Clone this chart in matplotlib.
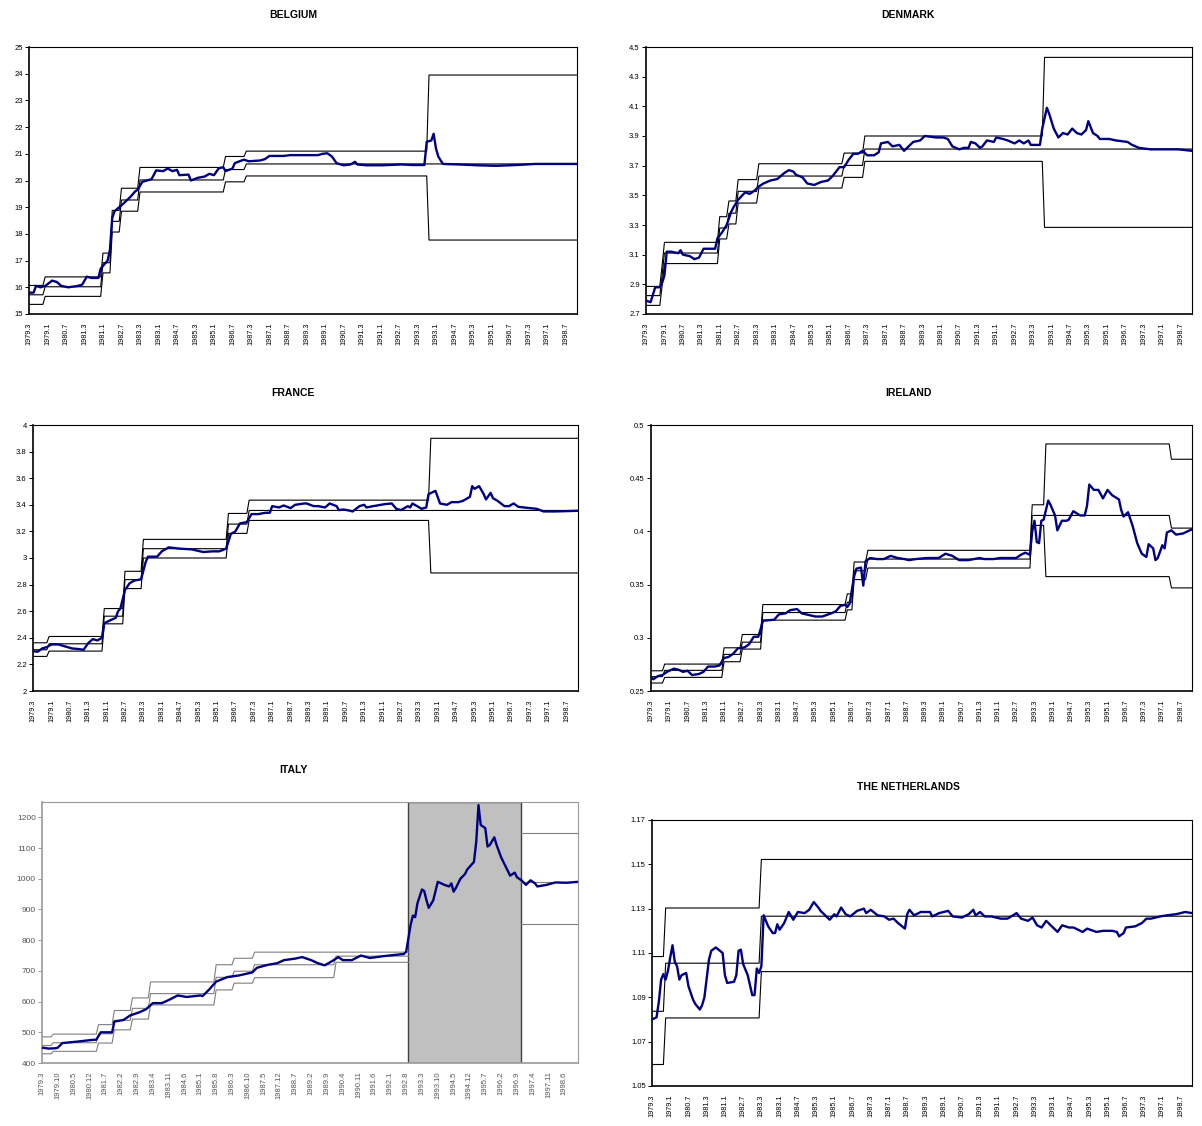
import matplotlib
matplotlib.use("Agg")
import matplotlib.pyplot as plt
import numpy as np

plt.rcParams['font.family'] = ['Liberation Sans', 'DejaVu Sans']

# month index: 0 = 1979.3 ... 237 = 1998.12
LAST = 237
XLAB_8 = ["1979.3", "1979.1", "1980.7", "1981.3", "1981.1", "1982.7", "1983.3", "1983.1",
          "1984.7", "1985.3", "1985.1", "1986.7", "1987.3", "1987.1", "1988.7", "1989.3",
          "1989.1", "1990.7", "1991.3", "1991.1", "1992.7", "1993.3", "1993.1", "1994.7",
          "1995.3", "1995.1", "1996.7", "1997.3", "1997.1", "1998.7"]
XLAB_7 = ["1979.3", "1979.10", "1980.5", "1980.12", "1981.7", "1982.2", "1982.9", "1983.4",
          "1983.11", "1984.6", "1985.1", "1985.8", "1986.3", "1986.10", "1987.5", "1987.12",
          "1988.7", "1989.2", "1989.9", "1990.4", "1990.11", "1991.6", "1992.1", "1992.8",
          "1993.3", "1993.10", "1994.5", "1994.12", "1995.7", "1996.2", "1996.9", "1997.4",
          "1997.11", "1998.6"]

# ---------------- BELGIUM ----------------
bel_m = [0, 2, 3, 5, 7, 10, 12, 14, 17, 21, 23, 25, 27, 30, 31, 34, 35, 36, 37, 39, 41, 44, 46, 47,
         49, 53, 55, 58, 60, 62, 64, 65, 69, 70, 73, 76, 78, 80, 82, 84, 85, 88, 89, 92, 93, 95,
         100, 102, 104, 110, 113, 120, 125, 127, 129, 131, 133, 136, 139, 141, 142, 146, 153,
         161, 166, 171, 172, 174, 175, 176, 177, 179, 186, 194, 202, 211, 219, 237]
bel_v = [15.80, 15.80, 16.05, 16.00, 16.05, 16.25, 16.20, 16.05, 16.00, 16.05, 16.10, 16.40,
         16.35, 16.35, 16.70, 17.00, 17.40, 18.60, 18.85, 19.00, 19.15, 19.40, 19.60, 19.65,
         19.95, 20.05, 20.38, 20.35, 20.45, 20.35, 20.40, 20.20, 20.22, 20.00, 20.10, 20.15,
         20.25, 20.20, 20.45, 20.50, 20.35, 20.45, 20.65, 20.75, 20.78, 20.72, 20.75, 20.80,
         20.92, 20.92, 20.95, 20.95, 20.95, 21.00, 21.02, 20.90, 20.65, 20.57, 20.60, 20.70,
         20.60, 20.57, 20.57, 20.60, 20.58, 20.58, 21.45, 21.50, 21.75, 21.20, 20.90, 20.62,
         20.60, 20.57, 20.55, 20.58, 20.62, 20.62]
bel_chg = [0, 6, 31, 35, 39, 47, 84, 93, 172]
bel_up = [16.07, 16.39, 17.28, 18.88, 19.71, 20.49, 20.90, 21.10, 23.95]
bel_cen = [15.72, 16.02, 16.92, 18.47, 19.27, 20.02, 20.41, 20.62, 20.62]
bel_low = [15.36, 15.66, 16.54, 18.07, 18.85, 19.57, 19.95, 20.17, 17.77]

# ---------------- DENMARK ----------------
dk_m = [0, 2, 4, 6, 7, 8, 9, 11, 14, 15, 16, 19, 21, 23, 25, 28, 30, 31, 33, 35, 37, 38, 40, 43,
        45, 47, 49, 51, 54, 57, 60, 62, 64, 65, 68, 70, 73, 76, 79, 81, 84, 86, 88, 90, 92, 94,
        96, 99, 101, 102, 105, 107, 110, 112, 114, 116, 119, 121, 126, 129, 131, 133, 136, 138,
        140, 141, 143, 145, 146, 148, 151, 152, 155, 157, 160, 162, 164, 166, 167, 171, 172,
        174, 175, 177, 179, 181, 183, 185, 187, 189, 191, 192, 194, 196, 197, 201, 204, 209,
        211, 214, 219, 231, 237]
dk_v = [2.79, 2.78, 2.88, 2.88, 2.91, 2.96, 3.12, 3.12, 3.11, 3.13, 3.10, 3.09, 3.07, 3.08, 3.14,
        3.14, 3.14, 3.21, 3.25, 3.30, 3.39, 3.42, 3.47, 3.52, 3.51, 3.53, 3.56, 3.58, 3.60, 3.61,
        3.65, 3.67, 3.66, 3.64, 3.62, 3.58, 3.57, 3.59, 3.60, 3.63, 3.69, 3.69, 3.74, 3.78, 3.78,
        3.80, 3.77, 3.77, 3.79, 3.85, 3.86, 3.83, 3.84, 3.80, 3.83, 3.86, 3.87, 3.90, 3.89, 3.89,
        3.88, 3.83, 3.81, 3.82, 3.82, 3.86, 3.85, 3.82, 3.83, 3.87, 3.86, 3.89, 3.88, 3.87, 3.85,
        3.87, 3.85, 3.87, 3.84, 3.84, 3.95, 4.09, 4.05, 3.95, 3.89, 3.92, 3.91, 3.95, 3.92, 3.91,
        3.94, 4.00, 3.92, 3.90, 3.88, 3.88, 3.87, 3.86, 3.84, 3.82, 3.81, 3.81, 3.80]
dk_chg = [0, 6, 7, 31, 35, 39, 48, 85, 94, 172]
dk_up = [2.886, 3.03, 3.183, 3.356, 3.462, 3.606, 3.713, 3.785, 3.90, 4.43]
dk_cen = [2.824, 2.963, 3.111, 3.28, 3.38, 3.527, 3.63, 3.702, 3.812, 3.812]
dk_low = [2.758, 2.891, 3.04, 3.206, 3.307, 3.448, 3.549, 3.621, 3.729, 3.284]

# ---------------- FRANCE ----------------
fr_m = [0, 2, 4, 6, 8, 11, 13, 15, 17, 20, 22, 24, 26, 28, 30, 31, 34, 36, 37, 38, 40, 42, 44,
        47, 49, 50, 54, 56, 59, 64, 69, 74, 78, 81, 84, 86, 88, 90, 93, 95, 98, 101, 103, 104,
        107, 109, 112, 114, 118, 119, 122, 124, 127, 129, 132, 133, 135, 138, 139, 142, 144,
        145, 148, 153, 156, 158, 160, 163, 164, 165, 167, 169, 171, 172, 175, 177, 180, 182,
        185, 187, 190, 191, 192, 194, 196, 197, 199, 200, 202, 205, 207, 209, 211, 216, 219,
        222, 227, 237]
fr_v = [2.30, 2.295, 2.32, 2.33, 2.35, 2.35, 2.34, 2.33, 2.32, 2.315, 2.31, 2.36, 2.39, 2.38,
        2.40, 2.51, 2.535, 2.55, 2.60, 2.62, 2.76, 2.81, 2.83, 2.84, 2.97, 3.01, 3.01, 3.05, 3.08,
        3.07, 3.065, 3.045, 3.05, 3.05, 3.07, 3.18, 3.20, 3.26, 3.27, 3.33, 3.33, 3.34, 3.34,
        3.39, 3.38, 3.395, 3.375, 3.40, 3.41, 3.41, 3.39, 3.39, 3.38, 3.41, 3.39, 3.36, 3.365,
        3.355, 3.35, 3.39, 3.40, 3.38, 3.39, 3.405, 3.41, 3.37, 3.36, 3.39, 3.38, 3.41, 3.39,
        3.37, 3.38, 3.48, 3.505, 3.41, 3.40, 3.42, 3.42, 3.43, 3.46, 3.54, 3.52, 3.54, 3.48,
        3.44, 3.49, 3.45, 3.43, 3.39, 3.39, 3.41, 3.385, 3.375, 3.37, 3.35, 3.35, 3.355]
fr_chg = [0, 6, 30, 39, 47, 84, 93, 172]
fr_up = [2.3625, 2.41, 2.62, 2.90, 3.14, 3.335, 3.435, 3.90]
fr_cen = [2.31, 2.355, 2.5625, 2.8375, 3.07, 3.255, 3.3575, 3.3575]
fr_low = [2.26, 2.30, 2.505, 2.77, 3.00, 3.185, 3.2825, 2.8875]

# ---------------- IRELAND ----------------
ie_m = [0, 1, 3, 5, 7, 10, 12, 14, 16, 18, 21, 23, 25, 28, 30, 32, 34, 36, 38, 41, 43, 45, 47,
        48, 49, 54, 56, 59, 61, 64, 66, 70, 72, 75, 79, 81, 83, 85, 86, 87, 89, 90, 92, 93, 94,
        96, 99, 102, 105, 108, 111, 113, 116, 121, 126, 129, 132, 135, 139, 144, 146, 150, 153,
        156, 160, 162, 164, 166, 167, 168, 169, 170, 171, 172, 173, 174, 175, 177, 178, 180,
        182, 183, 185, 188, 190, 191, 192, 194, 196, 198, 200, 202, 205, 206, 207, 209, 211,
        213, 215, 217, 218, 220, 221, 222, 224, 225, 226, 228, 230, 233, 237]
ie_v = [0.263, 0.261, 0.264, 0.265, 0.268, 0.271, 0.270, 0.268, 0.269, 0.265, 0.266, 0.268,
        0.273, 0.273, 0.274, 0.281, 0.282, 0.285, 0.290, 0.291, 0.294, 0.301, 0.301, 0.308,
        0.316, 0.317, 0.322, 0.323, 0.326, 0.327, 0.323, 0.321, 0.320, 0.320, 0.323, 0.325,
        0.330, 0.331, 0.329, 0.332, 0.358, 0.365, 0.366, 0.349, 0.372, 0.375, 0.374, 0.374,
        0.377, 0.375, 0.374, 0.373, 0.374, 0.375, 0.375, 0.379, 0.377, 0.373, 0.373, 0.375,
        0.374, 0.374, 0.375, 0.375, 0.375, 0.378, 0.380, 0.378, 0.400, 0.410, 0.390, 0.389,
        0.410, 0.411, 0.420, 0.429, 0.425, 0.415, 0.401, 0.410, 0.410, 0.411, 0.419, 0.415,
        0.415, 0.424, 0.444, 0.439, 0.439, 0.431, 0.439, 0.434, 0.430, 0.420, 0.414, 0.418,
        0.405, 0.389, 0.379, 0.376, 0.388, 0.384, 0.373, 0.375, 0.387, 0.384, 0.399, 0.401,
        0.397, 0.398, 0.402]
ie_chg = [0, 5, 31, 39, 48, 85, 88, 94, 166, 172, 227]
ie_up = [0.269, 0.2753, 0.2906, 0.3031, 0.33125, 0.34125, 0.37125, 0.3822, 0.425, 0.4822, 0.4678]
ie_cen = [0.2635, 0.2694, 0.2844, 0.2959, 0.32375, 0.3334, 0.363, 0.374, 0.415, 0.415, 0.4031]
ie_low = [0.2575, 0.2628, 0.2775, 0.2894, 0.3166, 0.32625, 0.3547, 0.3656, 0.4056, 0.3575, 0.3469]

# ---------------- ITALY ----------------
it_m = [0, 3, 6, 7, 9, 12, 16, 22, 24, 26, 31, 32, 36, 39, 43, 46, 49, 53, 56, 60, 64, 70, 71,
        74, 77, 82, 87, 93, 95, 100, 104, 107, 112, 115, 119, 122, 125, 129, 131, 133, 137, 141,
        145, 151, 156, 160, 161, 163, 164, 165, 166, 168, 169, 170, 171, 173, 174, 175, 178,
        180, 181, 182, 183, 185, 187, 188, 191, 192, 193, 194, 196, 197, 198, 200, 201, 203,
        205, 207, 209, 210, 212, 214, 216, 218, 219, 223, 227, 232, 237]
it_v = [450, 447, 448, 450, 465, 467, 470, 475, 476, 500, 500, 535, 540, 555, 565, 575, 595, 595,
        605, 620, 615, 620, 618, 640, 665, 680, 685, 695, 710, 720, 725, 735, 740, 745, 735, 725,
        718, 735, 745, 735, 735, 750, 742, 748, 752, 755, 762, 850, 880, 875, 920, 965, 960, 930,
        905, 930, 960, 990, 980, 975, 985, 958, 970, 1000, 1015, 1030, 1055, 1120, 1240, 1175,
        1165, 1105, 1110, 1135, 1110, 1070, 1040, 1010, 1020, 1005, 995, 980, 995, 985, 975,
        980, 988, 987, 990]
it_chg = [0, 4, 24, 31, 39, 47, 76, 84, 93, 129]
it_up = [485, 494, 525, 571, 612, 664, 720, 741, 761, 761]
it_cen = [457, 466, 495, 539, 578, 626, 679, 699, 720, 748]
it_low = [430, 438, 465, 508, 543, 589, 638, 660, 678, 728]
it_ems_end = 162          # lira leaves the ERM
it_rejoin = 212           # lira re-enters
it_new_up, it_new_cen, it_new_low = [1148], [990], [852]

# ---------------- NETHERLANDS ----------------
nl_m = [0, 2, 3, 4, 5, 6, 7, 8, 9, 10, 11, 12, 13, 15, 16, 18, 19, 21, 22, 23, 25, 26, 28, 31,
        32, 33, 36, 37, 38, 39, 40, 42, 44, 45, 46, 47, 48, 49, 51, 53, 54, 55, 56, 58, 60, 62,
        64, 67, 69, 71, 73, 74, 77, 78, 80, 81, 83, 85, 87, 90, 93, 94, 96, 99, 102, 104, 106,
        108, 111, 112, 113, 115, 118, 122, 123, 126, 128, 130, 132, 136, 139, 141, 142, 144,
        146, 149, 153, 156, 160, 162, 165, 167, 169, 171, 173, 175, 178, 180, 183, 185, 187,
        189, 191, 195, 198, 202, 204, 205, 207, 208, 212, 215, 217, 219, 223, 226, 230, 234, 237]
nl_v = [1.080, 1.081, 1.088, 1.098, 1.1005, 1.098, 1.102, 1.108, 1.1135, 1.106, 1.104, 1.098,
        1.100, 1.101, 1.095, 1.089, 1.087, 1.0845, 1.0865, 1.090, 1.107, 1.111, 1.1125, 1.110,
        1.100, 1.0965, 1.097, 1.100, 1.111, 1.1115, 1.105, 1.100, 1.091, 1.091, 1.103, 1.101,
        1.104, 1.127, 1.122, 1.119, 1.119, 1.123, 1.1205, 1.1235, 1.1285, 1.125, 1.1285, 1.128,
        1.1295, 1.133, 1.1305, 1.129, 1.126, 1.125, 1.1275, 1.1265, 1.1305, 1.1275, 1.1265,
        1.129, 1.130, 1.128, 1.1295, 1.127, 1.1265, 1.125, 1.1255, 1.1235, 1.121, 1.1275,
        1.1295, 1.127, 1.1285, 1.1285, 1.1265, 1.128, 1.1285, 1.129, 1.1265, 1.126, 1.1275,
        1.1295, 1.127, 1.1285, 1.1265, 1.1265, 1.1255, 1.1255, 1.128, 1.1255, 1.1245, 1.126,
        1.1225, 1.1215, 1.1245, 1.1225, 1.1195, 1.1225, 1.1215, 1.1215, 1.1205, 1.1195, 1.121,
        1.1195, 1.120, 1.120, 1.1195, 1.1175, 1.119, 1.1215, 1.122, 1.1235, 1.1255, 1.1255,
        1.1265, 1.127, 1.1275, 1.1285, 1.128]
nl_chg = [0, 5, 47]
nl_up = [1.1084, 1.1303, 1.1522]
nl_cen = [1.0837, 1.1054, 1.1266]
nl_low = [1.0597, 1.0807, 1.1016]


def band_xy(changes, vals, end=LAST):
    # step line, Excel style: one month slope at each realignment
    xs, ys = [], []
    for i, (c, v) in enumerate(zip(changes, vals)):
        start = c if i == 0 else c + 1
        stop = changes[i + 1] if i + 1 < len(changes) else end
        xs += [start, stop]
        ys += [v, v]
    return xs, ys


def panel(ax, months, rate, changes, bands, yticks, ylim, xlabels, step,
          band_col='black', frame_col='black', lab_col='black', yfs=5.5, xfs=5.2, end=LAST):
    for vals in bands:
        bx, by = band_xy(changes, vals, end)
        ax.plot(bx, by, color=band_col, lw=0.8, zorder=2)
    ax.plot(months, rate, color='#000080', lw=1.7, zorder=4)
    ax.set_xlim(0, LAST)
    ax.set_ylim(*ylim)
    ax.set_yticks(yticks)
    ax.set_yticklabels([f"{t:g}" for t in yticks], fontsize=yfs, color=lab_col)
    ax.set_xticks(np.arange(0, LAST + 1, step)[:len(xlabels)])
    ax.set_xticklabels(xlabels, rotation=90, fontsize=xfs, color=lab_col)
    ax.tick_params(axis='y', direction='out', length=3, width=0.7, color=frame_col, pad=1.5)
    # no tick marks on the category axis, only labels
    ax.tick_params(axis='x', length=0, pad=6)
    for side, sp in ax.spines.items():
        sp.set_color(frame_col)
        sp.set_linewidth(1.2 if side in ('left', 'bottom') else 0.8)


fig = plt.figure(figsize=(12.02, 11.26), dpi=100)
W, H = 1202.0, 1126.0


def add_axes(l, t, r, b):
    return fig.add_axes([l / W, 1 - b / H, (r - l) / W, (b - t) / H])


ax_bel = add_axes(29, 47, 577, 314)
ax_dk = add_axes(646, 47, 1192, 314)
ax_fr = add_axes(33, 425, 578, 691)
ax_ie = add_axes(651, 425, 1192, 691)
ax_it = add_axes(42, 802, 578, 1063)
ax_nl = add_axes(652, 820, 1192, 1086)

panel(ax_bel, bel_m, bel_v, bel_chg, [bel_up, bel_cen, bel_low],
      list(range(15, 26)), (15, 25), XLAB_8, 8)
panel(ax_dk, dk_m, dk_v, dk_chg, [dk_up, dk_cen, dk_low],
      list(np.round(np.arange(2.7, 4.51, 0.2), 1)), (2.7, 4.5), XLAB_8, 8)
panel(ax_fr, fr_m, fr_v, fr_chg, [fr_up, fr_cen, fr_low],
      list(np.round(np.arange(2.0, 4.01, 0.2), 1)), (2, 4), XLAB_8, 8)
panel(ax_ie, ie_m, ie_v, ie_chg, [ie_up, ie_cen, ie_low],
      list(np.round(np.arange(0.25, 0.501, 0.05), 2)), (0.25, 0.5), XLAB_8, 8)
panel(ax_nl, nl_m, nl_v, nl_chg, [nl_up, nl_cen, nl_low],
      list(np.round(np.arange(1.05, 1.171, 0.02), 2)), (1.05, 1.17), XLAB_8, 8)

# Italy: grey screenshot style, ERM exit shaded
ax_it.axvspan(it_ems_end, it_rejoin, facecolor='#c0c0c0', edgecolor='#404040', lw=1.0, zorder=1)
panel(ax_it, it_m, it_v, it_chg, [it_up, it_cen, it_low],
      list(range(400, 1201, 100)), (400, 1250), XLAB_7, 7,
      band_col='#7f7f7f', frame_col='#9a9a9a', lab_col='#555555', yfs=6, xfs=5.5, end=it_ems_end)
for vals in [it_new_up, it_new_cen, it_new_low]:
    bx, by = band_xy([it_rejoin], vals)
    ax_it.plot(bx, by, color='#7f7f7f', lw=0.8, zorder=2)

titles = [("BELGIUM", 293, 15), ("DENMARK", 908, 15), ("FRANCE", 293, 393),
          ("IRELAND", 908, 393), ("ITALY", 293, 770), ("THE NETHERLANDS", 908, 787)]
for name, tx, ty in titles:
    fig.text(tx / W, 1 - ty / H, name, ha='center', va='center', fontsize=7.5, fontweight='bold')

fig.savefig("out.png", dpi=100, facecolor='white')
